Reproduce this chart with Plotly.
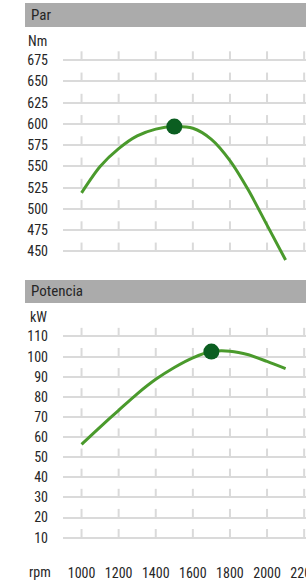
import plotly.graph_objects as go

# ---- data ----
rpm = [1000, 1100, 1200, 1300, 1400, 1500, 1600, 1700, 1800, 1900, 2000, 2100]
torque_nm = [519, 550, 571, 586, 594, 597, 595, 582, 557, 522, 481, 440]
power_kw = [56.4, 65.0, 73.3, 81.5, 88.7, 94.6, 99.4, 102.5, 102.7, 100.9, 97.6, 94.0]
torque_peak = (1500, 597)
power_peak = (1700, 102.5)

x_ticks = [1000, 1200, 1400, 1600, 1800, 2000, 2200]
torque_ticks = [450, 475, 500, 525, 550, 575, 600, 625, 650, 675]
power_ticks = [10, 20, 30, 40, 50, 60, 70, 80, 90, 100, 110]

W, H = 306, 585
LINE = "#4a9a2c"
DOT = "#0b5e21"
GRID = "#dadada"
TXT = "#262626"
FONT = "Liberation Sans Narrow, Roboto Condensed, Arial Narrow, sans-serif"


def py(p):
    return 1 - p / H


def px(p):
    return p / W


fig = go.Figure()


def tick_marks(ticks, frac, xa, ya):
    step = ticks[1] - ticks[0]
    xs, ys = [], []
    for yt in ticks:
        for xt in x_ticks:
            xs += [xt, xt, None]
            ys += [yt, yt + frac * step, None]
    fig.add_trace(go.Scatter(x=xs, y=ys, mode="lines", xaxis=xa, yaxis=ya,
                             line=dict(color=GRID, width=2), hoverinfo="skip",
                             showlegend=False))


tick_marks(torque_ticks, 0.42, "x", "y")
tick_marks(power_ticks, 0.43, "x2", "y2")

fig.add_trace(go.Scatter(x=rpm, y=torque_nm, mode="lines", xaxis="x", yaxis="y",
                         line=dict(color=LINE, width=3, shape="spline", smoothing=0.8),
                         showlegend=False, cliponaxis=False))
fig.add_trace(go.Scatter(x=[torque_peak[0]], y=[torque_peak[1]], mode="markers",
                         xaxis="x", yaxis="y", marker=dict(color=DOT, size=16),
                         showlegend=False, cliponaxis=False))
fig.add_trace(go.Scatter(x=rpm, y=power_kw, mode="lines", xaxis="x2", yaxis="y2",
                         line=dict(color=LINE, width=3, shape="spline", smoothing=0.8),
                         showlegend=False, cliponaxis=False))
fig.add_trace(go.Scatter(x=[power_peak[0]], y=[power_peak[1]], mode="markers",
                         xaxis="x2", yaxis="y2", marker=dict(color=DOT, size=16),
                         showlegend=False, cliponaxis=False))

x_dom = [px(63), 1]
x_rng = [900, 2210]
common_y = dict(showgrid=True, gridcolor=GRID, gridwidth=2, zeroline=False,
                showline=False, ticks="", tickfont=dict(family=FONT, size=14, color=TXT),
                ticklabelstandoff=14, fixedrange=True, automargin=False)

fig.update_layout(
    width=W, height=H,
    margin=dict(l=0, r=0, t=0, b=0, autoexpand=False),
    paper_bgcolor="white", plot_bgcolor="white",
    font=dict(family=FONT, color=TXT),
    xaxis=dict(domain=x_dom, range=x_rng, anchor="y", showgrid=False, zeroline=False,
               showticklabels=False, tickvals=x_ticks, ticks="", automargin=False),
    yaxis=dict(domain=[py(265), py(48)], range=[434.1, 689.4], anchor="x",
               tickvals=torque_ticks, **common_y),
    xaxis2=dict(domain=x_dom, range=x_rng, anchor="y2", showgrid=False, zeroline=False,
                tickvals=x_ticks, ticks="", ticklabelstandoff=7,
                ticklabeloverflow="allow", automargin=False,
                tickfont=dict(family=FONT, size=14, color=TXT)),
    yaxis2=dict(domain=[py(556), py(322)], range=[0.9, 117.2], anchor="x2",
                tickvals=power_ticks, **common_y),
    shapes=[
        dict(type="rect", xref="paper", yref="paper", x0=px(25), x1=1,
             y0=py(27), y1=py(3), fillcolor="#ababab", line=dict(width=0), layer="below"),
        dict(type="rect", xref="paper", yref="paper", x0=px(25), x1=1,
             y0=py(303), y1=py(280), fillcolor="#ababab", line=dict(width=0), layer="below"),
    ],
    annotations=[
        dict(text="Par", x=px(29), y=py(15), xref="paper", yref="paper",
             xanchor="left", yanchor="middle", showarrow=False,
             font=dict(family=FONT, size=15, color=TXT)),
        dict(text="Potencia", x=px(29), y=py(291), xref="paper", yref="paper",
             xanchor="left", yanchor="middle", showarrow=False,
             font=dict(family=FONT, size=15, color=TXT)),
        dict(text="Nm", x=px(49), y=py(41), xref="paper", yref="paper",
             xanchor="right", yanchor="middle", showarrow=False,
             font=dict(family=FONT, size=14, color=TXT)),
        dict(text="kW", x=px(49), y=py(317), xref="paper", yref="paper",
             xanchor="right", yanchor="middle", showarrow=False,
             font=dict(family=FONT, size=14, color=TXT)),
        dict(text="rpm", x=px(53), y=py(572), xref="paper", yref="paper",
             xanchor="right", yanchor="middle", showarrow=False,
             font=dict(family=FONT, size=14, color=TXT)),
    ],
)

fig.write_html(
    "out.html",
    config={"displayModeBar": False},
    post_script="document.body.style.margin='0';document.body.style.padding='0';",
)
